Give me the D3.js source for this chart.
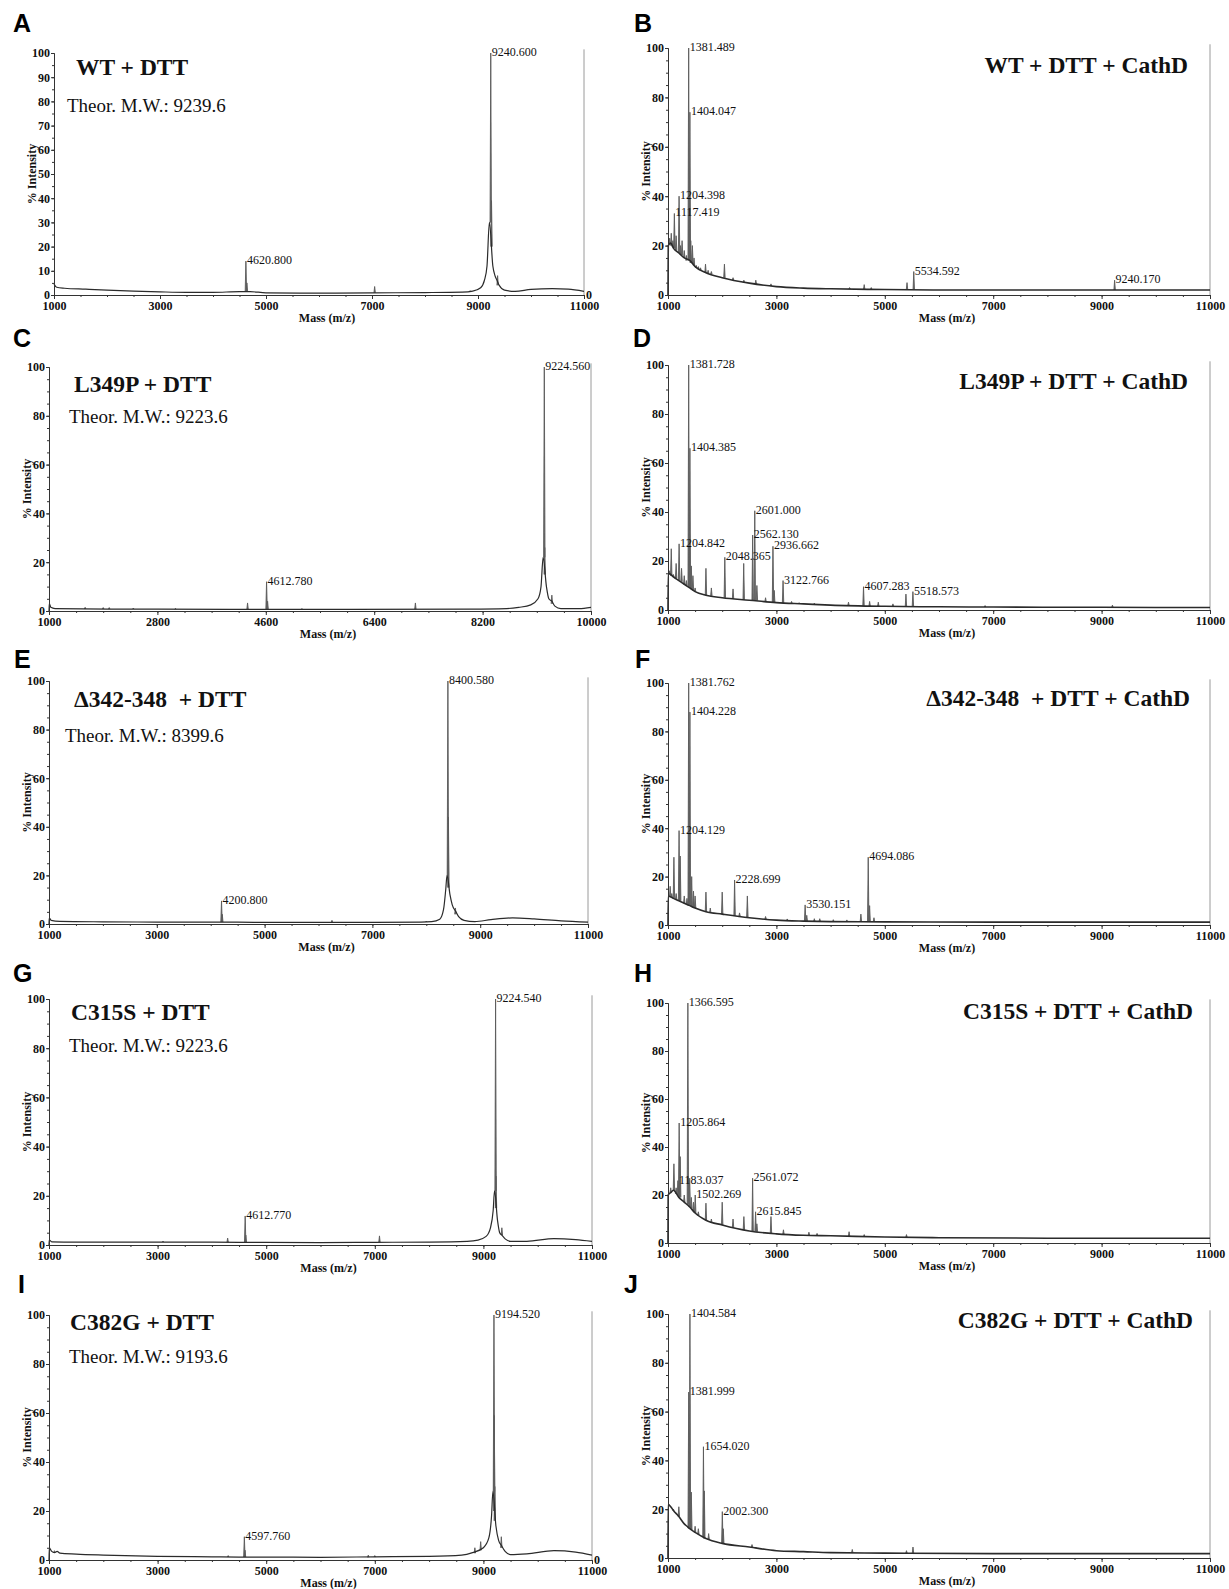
<!DOCTYPE html>
<html>
<head>
<meta charset="utf-8">
<script src="https://cdn.jsdelivr.net/npm/d3@7"></script>
<style>
  body { margin: 0; background: #fff; }
  svg { display: block; }
  text { font-family: "Liberation Serif", "Times New Roman", serif; fill: #111; }
</style>
</head>
<body>
<svg width="1229" height="1589"></svg>
<script>
'use strict'

// ---- data: [m/z, % intensity] ----
const panelIds = ['A', 'B', 'C', 'D', 'E', 'F', 'G', 'H', 'I', 'J']
const titles = ['WT + DTT', 'WT + DTT + CathD', 'L349P + DTT', 'L349P + DTT + CathD',
  '\u0394342-348  + DTT', '\u0394342-348  + DTT + CathD', 'C315S + DTT', 'C315S + DTT + CathD',
  'C382G + DTT', 'C382G + DTT + CathD']
const theorMW = ['9239.6', null, '9223.6', null, '8399.6', null, '9223.6', null, '9193.6', null]

const xTicks11 = [1000, 3000, 5000, 7000, 9000, 11000]
const xTicks10 = [1000, 2800, 4600, 6400, 8200, 10000]
const yTicksBy10 = [0, 10, 20, 30, 40, 50, 60, 70, 80, 90, 100]
const yTicksBy20 = [0, 20, 40, 60, 80, 100]

// baselines [m/z, %]
const baseA = [[1000, 4.5], [1050, 3.2], [1200, 2.8], [1600, 2.4], [2000, 2], [2500, 1.6], [3000, 1.3],
  [3500, 1.1], [4000, 1.1], [4500, 1.4], [4700, 1.4], [5000, 0.9], [6000, 0.8], [7000, 0.9], [8000, 1],
  [8700, 1.2], [8900, 1.6], [9050, 3], [9120, 6], [9170, 12], [9215, 30], [9280, 12], [9320, 8], [9360, 6],
  [9400, 4], [9500, 2], [9700, 1.5], [10000, 2.3], [10400, 2.6], [10700, 2.4], [11000, 1.5]]
const baseB = [[1000, 0], [1005, 20], [1050, 21], [1100, 19], [1200, 17], [1300, 15], [1400, 14], [1500, 11.5],
  [1700, 9], [2000, 7], [2500, 4.8], [3000, 3.4], [3500, 2.8], [4000, 2.5], [5000, 2.2], [6000, 2], [8000, 2], [11000, 2]]
const baseC = [[1000, 0], [1005, 3], [1030, 1.5], [1100, 1], [2000, 0.8], [4000, 0.7], [6000, 0.7], [8000, 0.8],
  [8600, 1], [8800, 1.5], [9000, 2.5], [9120, 5], [9170, 10], [9205, 22], [9260, 10], [9300, 5], [9350, 4],
  [9400, 2], [9500, 1], [9800, 1], [10000, 1.5]]
const baseD = [[1000, 0], [1005, 15], [1050, 14.5], [1100, 13.5], [1200, 12], [1300, 10.5], [1400, 9], [1500, 7.5],
  [1700, 6], [2000, 5], [2500, 4], [3000, 3], [3500, 2.5], [4000, 2], [5000, 1.5], [6000, 1.3], [7000, 1.2],
  [9000, 1.1], [11000, 1]]
const baseE = [[1000, 0], [1005, 2.5], [1040, 1.5], [1200, 1.1], [2000, 0.9], [3000, 0.8], [4000, 0.8], [5000, 0.7],
  [6000, 0.7], [7000, 0.7], [7900, 0.8], [8100, 1], [8250, 2], [8320, 6], [8360, 14], [8385, 20], [8440, 12],
  [8480, 8], [8550, 5], [8600, 3], [8700, 1.5], [8900, 1], [9200, 1.8], [9600, 2.5], [10000, 2.1], [10500, 1.3], [11000, 0.8]]
const baseF = [[1000, 0], [1005, 12], [1100, 11], [1200, 10], [1300, 9], [1400, 8], [1500, 7], [1700, 5.5],
  [2000, 4.5], [2500, 3], [3000, 2], [3500, 1.6], [4000, 1.4], [5000, 1.3], [7000, 1.2], [11000, 1.2]]
const baseG = [[1000, 0], [1005, 2], [1050, 1.3], [1500, 1.2], [3000, 1.2], [4500, 1.1], [6000, 1], [7000, 1.1],
  [8000, 1.2], [8700, 1.5], [8900, 2], [9050, 3.5], [9130, 7], [9180, 14], [9205, 22], [9260, 10], [9300, 5],
  [9340, 4], [9400, 2.5], [9500, 1.5], [9800, 1.5], [10300, 2.6], [10700, 2.2], [11000, 1.5]]
const baseH = [[1000, 0], [1003, 20], [1050, 21], [1100, 22], [1200, 19], [1300, 17], [1400, 15], [1500, 12.5],
  [1700, 9.5], [2000, 7.5], [2500, 5], [3000, 3.8], [3500, 3.2], [4000, 3], [5000, 2.5], [6000, 2.2], [8000, 2], [11000, 2]]
const baseI = [[1000, 0], [1005, 5], [1050, 3.5], [1100, 3], [1150, 3.5], [1200, 2.8], [1500, 2.4], [2000, 2],
  [3000, 1.5], [4000, 1.3], [4500, 1.2], [5000, 1.2], [6000, 1.1], [7000, 1.3], [8000, 1.5], [8600, 2], [8800, 3],
  [9000, 5], [9100, 9], [9150, 18], [9175, 28], [9230, 14], [9280, 8], [9330, 6], [9400, 3.5], [9500, 2.2],
  [9800, 2.5], [10300, 3.8], [10700, 3.2], [11000, 2]]
const baseJ = [[1000, 0], [1003, 22], [1050, 21], [1100, 19.5], [1200, 17], [1300, 14], [1350, 13], [1400, 12],
  [1500, 10.5], [1700, 8], [2000, 6], [2500, 4.5], [3000, 3], [3500, 2.6], [4000, 2.2], [5000, 2], [7000, 1.8], [11000, 1.8]]

// peaks [m/z, top %, foot %, labelled]
const peaksA = [[4620.800, 14, 1.5, 1], [4640, 5, 1.5, 0], [7050, 3.5, 0.9, 0], [8850, 1.8, 1.2, 0],
  [9240.600, 100, 30, 1], [9255, 39, 20, 0], [9370, 8, 4, 0]]
const peaksB = [[1030, 23, 20.5, 0], [1060, 25, 20, 0], [1090, 22, 19.5, 0], [1117.419, 33, 19, 1], [1150, 24, 18, 0],
  [1204.398, 40, 17, 1], [1230, 20, 16.5, 0], [1260, 22, 16, 0], [1300, 18, 15, 0], [1340, 16, 14, 0],
  [1381.489, 100, 14, 1], [1404.047, 74, 14, 1], [1420, 22, 13, 0], [1450, 20, 13, 0], [1480, 15, 12, 0],
  [1520, 12, 11, 0], [1560, 11.5, 10.5, 0], [1600, 11, 10, 0], [1692, 12.5, 9, 0], [1740, 10, 8.8, 0],
  [1800, 9.5, 8.5, 0], [2041, 12.5, 7, 0], [2200, 7, 6, 0], [2400, 6, 5, 0], [2620, 6, 4.5, 0], [2900, 4.5, 3.6, 0],
  [4350, 3, 2.4, 0], [4620, 4.2, 2.3, 0], [4750, 3, 2.3, 0], [5410, 5, 2.2, 0], [5534.592, 9.5, 2.2, 1],
  [9240.170, 6, 2, 1]]
const peaksC = [[1600, 1.5, 0.8, 0], [1900, 1.4, 0.8, 0], [2000, 1.4, 0.8, 0], [2400, 1.2, 0.8, 0], [3100, 1.1, 0.7, 0],
  [4297, 3.3, 0.7, 0], [4612.780, 12, 0.7, 1], [4630, 4, 0.7, 0], [5200, 1, 0.7, 0], [7084, 3.3, 0.7, 0],
  [9224.560, 100, 22, 1], [9232, 26, 15, 0], [9350, 6.5, 3, 0]]
const peaksD = [[1030, 16, 14.8, 0], [1060, 25, 14, 0], [1100, 14.5, 13.5, 0], [1150, 19, 13, 0],
  [1204.842, 27, 12, 1], [1250, 17, 11.5, 0], [1300, 14, 10.5, 0], [1340, 12, 10, 0],
  [1381.728, 100, 9.5, 1], [1404.385, 66, 9, 1], [1430, 18, 8.5, 0], [1460, 14, 8, 0], [1500, 9, 7.5, 0],
  [1700, 17, 6, 0], [1800, 9, 5.8, 0], [2048.365, 21.5, 5, 1], [2200, 8.6, 4.6, 0], [2397, 19, 4.2, 0],
  [2562.130, 30.6, 4, 1], [2601.000, 40.5, 4, 1], [2640, 10, 3.9, 0], [2800, 5, 3.4, 0], [2936.662, 26, 3.1, 1],
  [2960, 8, 3, 0], [3122.766, 12, 2.8, 1], [3280, 3.5, 2.6, 0], [3420, 3, 2.5, 0], [3700, 2.8, 2.3, 0],
  [4330, 3.2, 1.8, 0], [4607.283, 9.5, 1.7, 1], [4720, 3.5, 1.6, 0], [4880, 3.2, 1.5, 0], [5150, 2.5, 1.5, 0],
  [5390, 6.5, 1.4, 0], [5518.573, 7.5, 1.4, 1], [6850, 1.8, 1.2, 0], [9200, 2, 1.1, 0]]
const peaksE = [[4200.800, 9.5, 0.8, 1], [4215, 4, 0.8, 0], [6250, 1.5, 0.7, 0], [8000, 1.2, 0.8, 0],
  [8400.580, 100, 20, 1], [8410, 44, 15, 0], [8540, 6.6, 4, 0]]
const peaksF = [[1040, 16, 11.5, 0], [1070, 13, 11.2, 0], [1109, 28, 11, 0], [1150, 13, 10.5, 0],
  [1204.129, 39, 10, 1], [1225, 28.5, 10, 0], [1300, 12, 9, 0], [1350, 11, 8.5, 0], [1381.762, 100, 8, 1],
  [1404.228, 88, 8, 1], [1437, 20, 7.5, 0], [1470, 14, 7.2, 0], [1500, 12, 7, 0], [1700, 13.6, 5.5, 0],
  [1780, 7, 5, 0], [2000, 13.6, 4.5, 0], [2228.699, 18.6, 3.8, 1], [2320, 5, 3.6, 0], [2464, 12, 3.2, 0],
  [2800, 3.5, 2.5, 0], [3200, 2.5, 1.9, 0], [3530.151, 8.3, 1.6, 1], [3560, 4, 1.6, 0], [3700, 2.6, 1.5, 0],
  [3800, 2.6, 1.5, 0], [4050, 2.2, 1.4, 0], [4300, 2.1, 1.4, 0], [4559, 4.5, 1.4, 0], [4694.086, 28, 1.3, 1],
  [4720, 8, 1.3, 0], [4800, 3, 1.3, 0]]
const peaksG = [[3100, 1.6, 1.2, 0], [4290, 2.8, 1.1, 0], [4612.770, 11.8, 1.1, 1], [4625, 4, 1.1, 0],
  [7086, 3.7, 1.1, 0], [9224.540, 100, 22, 1], [9232, 28, 15, 0], [9340, 7, 4, 0]]
const peaksH = [[1050, 23, 21, 0], [1109, 33, 22, 0], [1150, 23, 20.5, 0], [1183.037, 26, 20, 1],
  [1205.864, 50, 19.5, 1], [1225, 36, 19, 0], [1300, 20, 17, 0], [1366.595, 100, 16, 1], [1400, 27, 15, 0],
  [1430, 19, 14.5, 0], [1470, 17, 13.5, 0], [1502.269, 20, 12.5, 1], [1560, 13, 11.5, 0], [1700, 16.6, 9.5, 0],
  [1800, 10, 8.5, 0], [2000, 17, 7.5, 0], [2200, 10, 6.5, 0], [2400, 11, 5.5, 0], [2561.072, 27, 5, 1],
  [2615.845, 13, 4.8, 1], [2640, 8, 4.7, 0], [2900, 11, 4, 0], [3130, 5.5, 3.6, 0], [3600, 4.5, 3.2, 0],
  [3750, 4, 3.1, 0], [4341, 4.7, 2.8, 0], [4620, 3.5, 2.7, 0], [5400, 3.5, 2.4, 0]]
const peaksI = [[1100, 3.8, 3, 0], [4300, 1.8, 1.2, 0], [4597.760, 9.5, 1.2, 1], [4610, 4, 1.2, 0], [6880, 2, 1.1, 0],
  [7000, 1.8, 1.2, 0], [8843, 5, 2.8, 0], [8950, 7.5, 4, 0], [9194.520, 100, 28, 1], [9200, 59, 20, 0],
  [9210, 30, 16, 0], [9330, 9.5, 5, 0]]
const peaksJ = [[1100, 20, 19.5, 0], [1200, 21, 17, 0], [1381.999, 68, 12.5, 1], [1404.584, 100, 12, 1],
  [1430, 27, 11.5, 0], [1500, 13, 10.5, 0], [1560, 12, 9.8, 0], [1654.020, 45.6, 8.5, 1], [1670, 27.5, 8, 0],
  [1750, 10, 7.5, 0], [2002.300, 19, 6, 1], [2020, 12, 5.8, 0], [2550, 5.5, 4.3, 0], [2620, 4.5, 4, 0],
  [4400, 3.5, 2.2, 0], [5400, 3, 2, 0], [5520, 4.5, 2, 0]]

const bases = [baseA, baseB, baseC, baseD, baseE, baseF, baseG, baseH, baseI, baseJ]
const peaks = [peaksA, peaksB, peaksC, peaksD, peaksE, peaksF, peaksG, peaksH, peaksI, peaksJ]

// ---- layout (pixels) ----
const layout = {
  A: { x0: 54, x1: 584, yTop: 53, y0: 295, letter: [13, 32], title: [76, 75], theor: [67, 112], zeroRight: true },
  B: { x0: 668, x1: 1210, yTop: 48, y0: 295, letter: [634, 32], title: [1188, 73] },
  C: { x0: 49, x1: 591, yTop: 367, y0: 611, letter: [13, 347], title: [74, 392], theor: [69, 423] },
  D: { x0: 668, x1: 1210, yTop: 365, y0: 610, letter: [633, 347], title: [1188, 389] },
  E: { x0: 49, x1: 588, yTop: 681, y0: 924, letter: [14, 668], title: [74, 707], theor: [65, 742] },
  F: { x0: 668, x1: 1210, yTop: 683, y0: 925, letter: [635, 668], title: [1190, 706] },
  G: { x0: 49, x1: 592, yTop: 999, y0: 1245, letter: [13, 982], title: [71, 1020], theor: [69, 1052] },
  H: { x0: 668, x1: 1210, yTop: 1003, y0: 1243, letter: [634, 982], title: [1193, 1019] },
  I: { x0: 49, x1: 592, yTop: 1315, y0: 1560, letter: [18, 1293], title: [70, 1330], theor: [69, 1363], zeroRight: true },
  J: { x0: 668, x1: 1210, yTop: 1314, y0: 1558, letter: [624, 1293], title: [1193, 1328] }
}

const svg = d3.select('svg')

panelIds.forEach((id, i) => {
  const L = layout[id]
  const right = i % 2 === 1
  const xTicks = id === 'C' ? xTicks10 : xTicks11
  const xDom = [xTicks[0], xTicks[xTicks.length - 1]]
  const xStep = (xTicks[1] - xTicks[0]) / 4
  const yTicks = id === 'A' ? yTicksBy10 : yTicksBy20
  const x = d3.scaleLinear().domain(xDom).range([L.x0, L.x1])
  const y = d3.scaleLinear().domain([0, 100]).range([L.y0, L.yTop])
  const g = svg.append('g').attr('class', 'panel')

  // right frame line
  g.append('line')
    .attr('x1', x(xDom[1])).attr('x2', x(xDom[1]))
    .attr('y1', y(101.5)).attr('y2', y(0))
    .style('stroke', '#9a9a9a').style('stroke-width', 1)

  // peaks (drawn under the baseline)
  const spike = d3.line().x((d) => d[0]).y((d) => d[1])
  g.selectAll('path.peak').data(peaks[i])
    .enter()
    .append('path')
    .classed('peak', true)
    .attr('d', (d) => spike([[x(d[0]) - 0.7, y(d[2])], [x(d[0]), y(d[1])], [x(d[0]) + 0.7, y(d[2])]]))
    .style('fill', '#666').style('stroke', '#5a5a5a').style('stroke-width', 0.9)

  // spectrum baseline
  const line = d3.line().x((d) => x(d[0])).y((d) => y(d[1])).curve(d3.curveMonotoneX)
  g.append('path').datum(bases[i])
    .attr('d', line)
    .style('fill', 'none').style('stroke', '#2b2b2b').style('stroke-width', right ? 1.6 : 1.2)

  // peak labels
  g.selectAll('text.plabel').data(peaks[i].filter((d) => d[3]))
    .enter()
    .append('text')
    .classed('plabel', true)
    .attr('x', (d) => x(d[0]) + 1)
    .attr('y', (d) => y(d[1]) + 3)
    .style('font-size', '12px')
    .text((d) => d[0].toFixed(3))

  // axes
  const axisStyle = (sel) => {
    sel.select('.domain').style('stroke', '#333')
    sel.selectAll('.tick line').style('stroke', '#333')
    sel.selectAll('.tick text')
      .style('font-family', '"Liberation Serif", serif')
      .style('font-weight', 'bold').style('font-size', '12px').style('fill', '#111')
  }
  g.append('g').attr('transform', `translate(0,${L.y0})`)
    .call(d3.axisBottom(x).tickValues(d3.range(xDom[0], xDom[1] + 1, xStep)).tickSize(2).tickFormat(''))
    .call(axisStyle)
  g.append('g').attr('transform', `translate(0,${L.y0})`)
    .call(d3.axisBottom(x).tickValues(xTicks).tickSize(4).tickSizeOuter(0).tickPadding(2).tickFormat(d3.format('d')))
    .call(axisStyle)
  g.append('g').attr('transform', `translate(${L.x0},0)`)
    .call(d3.axisLeft(y).tickValues(d3.range(0, 101, 5)).tickSize(2).tickFormat(''))
    .call(axisStyle)
  g.append('g').attr('transform', `translate(${L.x0},0)`)
    .call(d3.axisLeft(y).tickValues(yTicks).tickSize(3).tickSizeOuter(0).tickPadding(1).tickFormat(d3.format('d')))
    .call(axisStyle)

  if (L.zeroRight) {
    g.append('text').attr('x', x(xDom[1]) + 5).attr('y', L.y0 + 4)
      .attr('text-anchor', 'middle')
      .style('font-weight', 'bold').style('font-size', '12px')
      .text('0')
  }

  // axis titles
  g.append('text')
    .attr('x', (L.x0 + L.x1) / 2 + 8).attr('y', L.y0 + 27)
    .attr('text-anchor', 'middle')
    .style('font-weight', 'bold').style('font-size', '12px')
    .text('Mass (m/z)')
  g.append('text')
    .attr('transform', `translate(${L.x0 - 18},${(L.yTop + L.y0) / 2}) rotate(-90)`)
    .attr('text-anchor', 'middle')
    .style('font-weight', 'bold').style('font-size', '12px')
    .text('% Intensity')

  // panel letter
  g.append('text')
    .attr('x', L.letter[0]).attr('y', L.letter[1])
    .style('font-family', '"Liberation Sans", Arial, sans-serif')
    .style('font-weight', 'bold').style('font-size', '25px').style('fill', '#000')
    .text(id)

  // sample title
  g.append('text')
    .attr('x', L.title[0]).attr('y', L.title[1])
    .attr('text-anchor', right ? 'end' : 'start')
    .attr('xml:space', 'preserve')
    .style('font-weight', 'bold').style('font-size', '23.5px').style('white-space', 'pre')
    .text(titles[i])

  if (theorMW[i]) {
    g.append('text')
      .attr('x', L.theor[0]).attr('y', L.theor[1])
      .style('font-size', '19px')
      .text(`Theor. M.W.: ${theorMW[i]}`)
  }
})
</script>
</body>
</html>
